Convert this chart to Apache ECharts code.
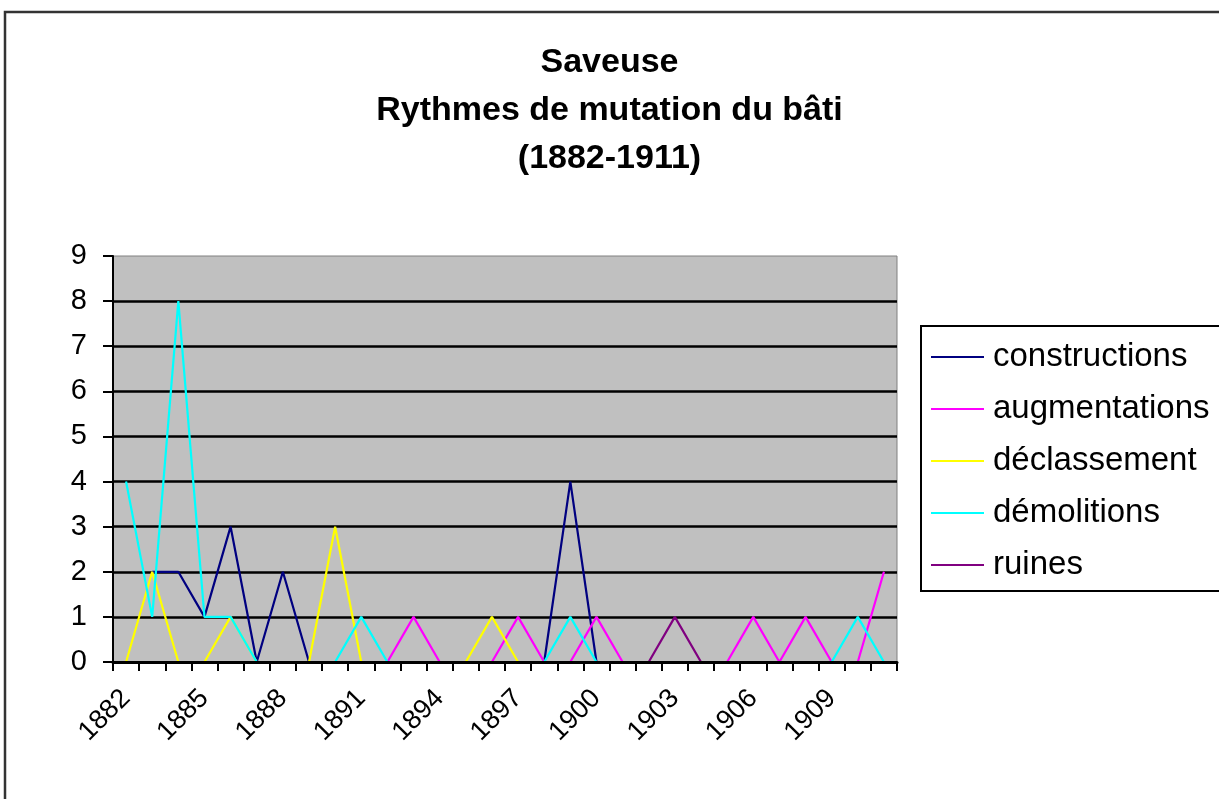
<!DOCTYPE html>
<html>
<head>
<meta charset="utf-8">
<title>Saveuse - Rythmes de mutation du bâti</title>
<script src="https://cdn.jsdelivr.net/npm/echarts@6/dist/echarts.min.js"></script>
<style>
  html, body { margin: 0; padding: 0; background: #fff; }
  #chart { width: 1219px; height: 799px; }
</style>
</head>
<body>
<div id="chart"></div>
<script>
// years 1882 -> 1911
const years = [];
for (let y = 1882; y <= 1911; y++) years.push(String(y));

// values, one per year
const constructions = ['-', 2, 2, 1, 3, 0, 2, 0, 0, 0, 0, 0, 0, 0, 0, 0, 0, 4, 0, 0, 0, 0, 0, 0, 0, 0, 0, 0, 0, 0];
const augmentations = [0, 0, 0, 0, 0, 0, 0, 0, 0, 0, 0, 1, 0, 0, 0, 1, 0, 0, 1, 0, 0, 0, 0, 0, 1, 0, 1, 0, 0, 2];
const declassement  = [0, 2, 0, 0, 1, 0, 0, 0, 3, 0, 0, 0, 0, 0, 1, 0, 0, 0, 0, 0, 0, 0, 0, 0, 0, 0, 0, 0, 0, 0];
const demolitions   = [4, 1, 8, 1, 1, 0, 0, 0, 0, 1, 0, 0, 0, 0, 0, 0, 0, 1, 0, 0, 0, 0, 0, 0, 0, 0, 0, 0, 1, 0];
const ruines        = [0, 0, 0, 0, 0, 0, 0, 0, 0, 0, 0, 0, 0, 0, 0, 0, 0, 0, 0, 0, 0, 1, 0, 0, 0, 0, 0, 0, 0, 0];

const seriesNames = ['constructions', 'augmentations', 'déclassement', 'démolitions', 'ruines'];
const seriesColors = ['#000080', '#FF00FF', '#FFFF00', '#00FFFF', '#800080'];
const seriesData = [constructions, augmentations, declassement, demolitions, ruines];

const font = '"Liberation Sans", Arial, sans-serif';

const chart = echarts.init(document.getElementById('chart'));
const option = {
  animation: false,
  backgroundColor: '#fff',
  textStyle: { fontFamily: font, color: '#000' },
  title: {
    text: 'Saveuse\nRythmes de mutation du bâti\n(1882-1911)',
    left: 'center',
    top: 34,
    textStyle: { fontFamily: font, fontSize: 34, fontWeight: 'bold', lineHeight: 48, color: '#000' }
  },
  graphic: [{
    type: 'rect',
    shape: { x: 5, y: 12, width: 1400, height: 1000 },
    style: { fill: 'none', stroke: '#333', lineWidth: 2.5 },
    silent: true
  }],
  legend: {
    data: seriesNames,
    orient: 'vertical',
    left: 921,
    top: 326,
    icon: 'rect',
    itemWidth: 53,
    itemHeight: 2,
    itemGap: 16,
    padding: [13, 40, 8, 10],
    backgroundColor: '#fff',
    borderColor: '#000',
    borderWidth: 2,
    borderRadius: 0,
    textStyle: { fontFamily: font, fontSize: 33, lineHeight: 36, color: '#000', padding: [0, 0, 0, 4] }
  },
  grid: {
    left: 113,
    top: 256,
    width: 784,
    height: 406,
    show: true,
    backgroundColor: '#C0C0C0',
    borderColor: '#808080',
    borderWidth: 1,
    outerBoundsMode: 'none'
  },
  xAxis: {
    type: 'category',
    data: years,
    boundaryGap: true,
    z: 5,
    axisLine: { show: true, lineStyle: { color: '#000', width: 3 } },
    axisTick: { show: true, interval: 0, length: 9, lineStyle: { color: '#000', width: 2 } },
    axisLabel: { interval: 2, rotate: 45, fontSize: 27, margin: 32, color: '#000', fontFamily: font },
    splitLine: { show: false }
  },
  yAxis: {
    type: 'value',
    min: 0,
    max: 9,
    interval: 1,
    axisLine: { show: true, lineStyle: { color: '#000', width: 2 } },
    axisTick: { show: true, length: 10, lineStyle: { color: '#000', width: 2 } },
    axisLabel: { fontSize: 29, margin: 26, color: '#000', fontFamily: font },
    splitLine: { show: true, showMinLine: false, showMaxLine: false, lineStyle: { color: '#000', width: 2.5 } }
  },
  series: seriesNames.map((name, i) => ({
    name: name,
    type: 'line',
    data: seriesData[i],
    symbol: 'none',
    connectNulls: false,
    color: seriesColors[i],
    lineStyle: { color: seriesColors[i], width: 2.2 }
  }))
};
chart.setOption(option);
</script>
</body>
</html>
